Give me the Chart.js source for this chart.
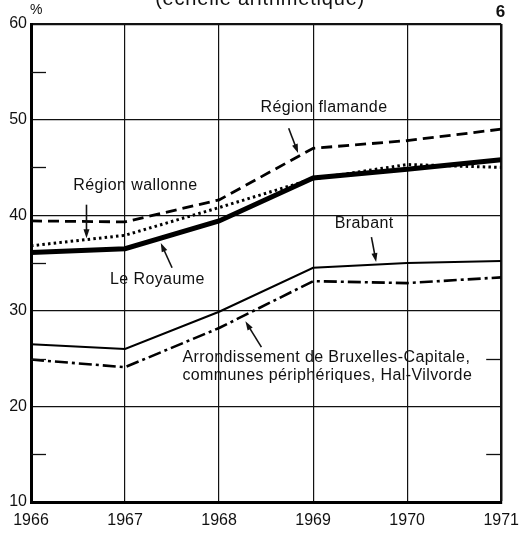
<!DOCTYPE html>
<html>
<head>
<meta charset="utf-8">
<script src="https://cdn.jsdelivr.net/npm/chart.js@4.4.1/dist/chart.umd.min.js"></script>
<style>
  html, body { margin: 0; padding: 0; background: #fff; }
  #wrap { width: 528px; height: 534px; }
</style>
</head>
<body>
<div id="wrap"><canvas id="chart"></canvas></div>
<script>
// valeurs (en %)
const years = [1966, 1967, 1968, 1969, 1970, 1971];
const royaume = [36.1, 36.5, 39.4, 43.9, 44.8, 45.8];
const flamande = [39.4, 39.3, 41.6, 47.0, 47.8, 49.0];
const wallonne = [36.8, 37.9, 40.8, 43.8, 45.3, 45.0];
const brabant = [26.5, 26.0, 29.9, 34.5, 35.0, 35.2];
const arrondissement = [24.9, 24.1, 28.2, 33.1, 32.9, 33.5];
const yTickValues = [10, 20, 30, 40, 50, 60];
const minorLeft = [15, 25, 35, 45, 55];
const minorRight = [15, 25];

const FONT = '"Liberation Sans", Arial, sans-serif';

// textes et flèches (coordonnées en unités des axes)
const notes = [
    {lines: ['Région flamande'], x: 1968.44, y: 51.3, arrow: [1968.74, 49.1, 1968.84, 46.5]},
    {lines: ['Région wallonne'], x: 1966.45, y: 43.05, arrow: [1966.59, 41.1, 1966.59, 37.6]},
    {lines: ['Le Royaume'], x: 1966.84, y: 33.3, arrow: [1967.50, 34.5, 1967.38, 37.1]},
    {lines: ['Brabant'], x: 1969.23, y: 39.1, arrow: [1969.62, 37.7, 1969.67, 35.1]},
    {lines: ['Arrondissement de Bruxelles-Capitale,', 'communes périphériques, Hal-Vilvorde'], x: 1967.61, y: 25.06, arrow: [1968.45, 26.2, 1968.28, 28.9]}
];

function toPoints(values) {
    return values.map((v, i) => ({x: years[i], y: v}));
}

const decorPlugin = {
    id: 'decor',
    afterDatasetsDraw(chart) {
        const ctx = chart.ctx;
        const xs = chart.scales.x;
        const ys = chart.scales.y;
        const area = chart.chartArea;
        ctx.save();
        ctx.strokeStyle = '#111';
        ctx.fillStyle = '#111';

        // petites graduations intermédiaires
        ctx.lineWidth = 1.3;
        minorLeft.forEach(v => {
            const py = Math.round(ys.getPixelForValue(v)) + 0.5;
            ctx.beginPath();
            ctx.moveTo(area.left, py);
            ctx.lineTo(area.left + 15, py);
            ctx.stroke();
        });
        minorRight.forEach(v => {
            const py = Math.round(ys.getPixelForValue(v)) + 0.5;
            ctx.beginPath();
            ctx.moveTo(area.right - 15, py);
            ctx.lineTo(area.right, py);
            ctx.stroke();
        });

        // textes
        ctx.font = '16px ' + FONT;
        ctx.textAlign = 'left';
        ctx.textBaseline = 'middle';
        if ('letterSpacing' in ctx) ctx.letterSpacing = '0.4px';
        notes.forEach(n => {
            const px = xs.getPixelForValue(n.x);
            const py = ys.getPixelForValue(n.y);
            n.lines.forEach((line, i) => {
                ctx.fillText(line, px, py + i * 18);
            });
            const [x1, y1, x2, y2] = n.arrow;
            drawArrow(ctx, xs.getPixelForValue(x1), ys.getPixelForValue(y1), xs.getPixelForValue(x2), ys.getPixelForValue(y2));
        });

        // titre coupé en haut
        ctx.font = '20px ' + FONT;
        ctx.textAlign = 'center';
        ctx.textBaseline = 'alphabetic';
        if ('letterSpacing' in ctx) ctx.letterSpacing = '0.8px';
        ctx.fillText('(échelle arithmétique)', (area.left + area.right) / 2 - 6, 5);

        if ('letterSpacing' in ctx) ctx.letterSpacing = '0px';
        // signe % au-dessus de 60
        ctx.font = '14px ' + FONT;
        ctx.textAlign = 'left';
        ctx.fillText('%', area.left - 1, ys.getPixelForValue(60) - 10);

        // numéro du graphique
        ctx.font = 'bold 17px ' + FONT;
        ctx.textAlign = 'right';
        ctx.fillText('6', area.right + 4, 17);
        ctx.restore();
    }
};

function drawArrow(ctx, x1, y1, x2, y2) {
    const ang = Math.atan2(y2 - y1, x2 - x1);
    const head = 9;
    const half = 3;
    ctx.lineWidth = 1.6;
    ctx.beginPath();
    ctx.moveTo(x1, y1);
    ctx.lineTo(x2 - Math.cos(ang) * head * 0.8, y2 - Math.sin(ang) * head * 0.8);
    ctx.stroke();
    ctx.beginPath();
    ctx.moveTo(x2, y2);
    ctx.lineTo(x2 - Math.cos(ang) * head - Math.sin(ang) * half, y2 - Math.sin(ang) * head + Math.cos(ang) * half);
    ctx.lineTo(x2 - Math.cos(ang) * head + Math.sin(ang) * half, y2 - Math.sin(ang) * head - Math.cos(ang) * half);
    ctx.closePath();
    ctx.fill();
}

new Chart(document.getElementById('chart'), {
    type: 'line',
    data: {
        datasets: [
            {label: 'Le Royaume', data: toPoints(royaume), borderColor: '#000', borderWidth: 5},
            {label: 'Région flamande', data: toPoints(flamande), borderColor: '#000', borderWidth: 2.8, borderDash: [11, 6]},
            {label: 'Région wallonne', data: toPoints(wallonne), borderColor: '#000', borderWidth: 3, borderDash: [2.5, 3.2]},
            {label: 'Brabant', data: toPoints(brabant), borderColor: '#000', borderWidth: 2},
            {label: 'Arrondissement', data: toPoints(arrondissement), borderColor: '#000', borderWidth: 2.6, borderDash: [13, 4, 3, 4]}
        ]
    },
    options: {
        responsive: true,
        maintainAspectRatio: false,
        animation: false,
        layout: {padding: {top: 24, right: 24, bottom: 0, left: 0}},
        elements: {
            point: {radius: 0},
            line: {tension: 0, fill: false, borderJoinStyle: 'miter'}
        },
        plugins: {
            legend: {display: false},
            title: {display: false},
            tooltip: {enabled: false}
        },
        scales: {
            x: {
                type: 'linear',
                min: 1966,
                max: 1971,
                afterFit: scale => { scale.height = 32; },
                afterBuildTicks: scale => { scale.ticks = years.map(v => ({value: v})); },
                ticks: {
                    color: '#111',
                    padding: 9,
                    maxRotation: 0,
                    font: {family: FONT, size: 16},
                    callback: v => String(v)
                },
                grid: {
                    color: '#111',
                    lineWidth: c => (c.tick && c.tick.value === 1971 ? 2.5 : 1.2),
                    drawTicks: false
                },
                border: {display: true, color: '#000', width: 3}
            },
            y: {
                min: 10,
                max: 60,
                afterFit: scale => { scale.width = 31; },
                afterBuildTicks: scale => { scale.ticks = yTickValues.map(v => ({value: v})); },
                ticks: {
                    color: '#111',
                    padding: 4,
                    font: {family: FONT, size: 16},
                    callback: v => String(v)
                },
                grid: {
                    color: '#111',
                    lineWidth: c => (c.tick && c.tick.value === 60 ? 2.2 : 1.2),
                    drawTicks: false
                },
                border: {display: true, color: '#000', width: 3}
            }
        }
    },
    plugins: [decorPlugin]
});
</script>
</body>
</html>
